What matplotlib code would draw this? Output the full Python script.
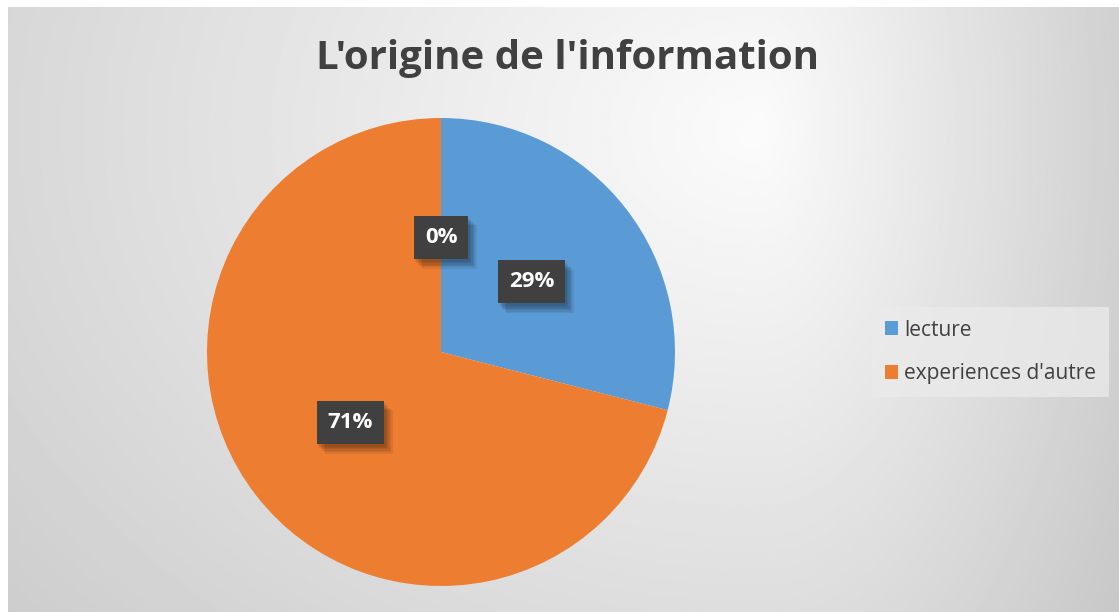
import numpy as np
import matplotlib
matplotlib.use('Agg')
import matplotlib.pyplot as plt
import matplotlib.patheffects as pe
from matplotlib.patches import Patch

# data
categories = ['lecture', "experiences d'autre", '']
values = [29, 71, 0]
colors = ['#5B9BD5', '#ED7D31', '#A5A5A5']

plt.rcParams['font.family'] = ['Open Sans', 'DejaVu Sans']

W, H = 1119, 612
fig = plt.figure(figsize=(W / 100, H / 100), dpi=100)
fig.patch.set_facecolor('white')

# gradient background of the chart area (light spot upper right, gray edges)
bg = fig.add_axes([8 / W, 0, 1 - 8 / W, 1 - 7 / H])
bg.set_axis_off()
py, px = np.mgrid[7:612:300j, 8:1119:550j]
dx = px - 760
dx = np.where(dx > 0, dx * 2.5, dx)
dy = (py - 130) * 1.3
d = np.sqrt(dx ** 2 + dy ** 2)
shade = np.clip(0.985 - 0.000185 * d, 0.78, 0.985)
bg.imshow(shade, cmap='gray', vmin=0, vmax=1, aspect='auto', extent=[0, 1, 1, 0],
          interpolation='bilinear')
bg.set_xlim(0, 1)
bg.set_ylim(1, 0)

fig.text(568 / W, 1 - 59 / H, "L'origine de l'information", ha='center', va='center',
         fontsize=29, fontweight='bold', color='#404040')

cx, cy, r = 441, 352, 234
ax = fig.add_axes([(cx - r) / W, (H - cy - r) / H, 2 * r / W, 2 * r / H])
wedges, texts, autotexts = ax.pie(values, colors=colors, startangle=90, counterclock=False,
                                  autopct='%1.0f%%', pctdistance=0.49, radius=1,
                                  wedgeprops=dict(linewidth=0))
ax.set_xlim(-1, 1)
ax.set_ylim(-1, 1)

# soft shadow: a few offset layers with low alpha
shadow = [pe.SimplePatchShadow(offset=(k, -k - 1), shadow_rgbFace='#000000', alpha=0.07)
          for k in range(1, 7)]
for t in autotexts:
    t.set_color('white')
    t.set_fontweight('bold')
    t.set_fontsize(16)
    t.set_bbox(dict(boxstyle='square,pad=0.5', facecolor='#404040',
                    edgecolor='none', linewidth=0))
    t.get_bbox_patch().set_path_effects(shadow + [pe.Normal()])

handles = [Patch(facecolor=colors[i], edgecolor='none') for i in range(2)]
leg = fig.legend(handles, categories[:2], loc='center left',
                 bbox_to_anchor=(872 / W, 1 - 352 / H), frameon=True,
                 fontsize=15, handlelength=0.65, handleheight=0.65,
                 handletextpad=0.3, labelspacing=1.1, borderpad=0.6,
                 borderaxespad=0)
leg.get_frame().set_facecolor('#ebebeb')
leg.get_frame().set_edgecolor('none')
leg.get_frame().set_alpha(0.75)
leg.get_frame().set_boxstyle('square', pad=0)
for t in leg.get_texts():
    t.set_color('#404040')

fig.savefig('out.png', dpi=100)
